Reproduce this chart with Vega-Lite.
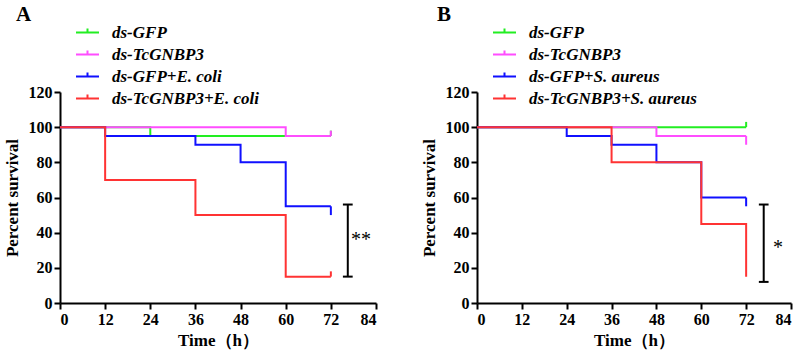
{
  "$schema": "https://vega.github.io/schema/vega-lite/v6.json",
  "background": "white",
  "padding": {"left": 3, "top": 4, "right": 3, "bottom": 4},
  "config": {
    "view": {"stroke": null},
    "font": "Liberation Serif",
    "axis": {
      "labelFont": "Liberation Serif", "labelFontWeight": "bold", "labelFontSize": 16, "labelColor": "black", "labelPadding": 2,
      "titleFont": "Liberation Serif", "titleFontWeight": "bold", "titleFontSize": 17, "titleColor": "black",
      "domainColor": "black", "domainWidth": 2, "tickColor": "black", "tickWidth": 2, "tickSize": 6, "grid": false
    },
    "legend": {
      "labelFont": "Liberation Serif", "labelFontWeight": "bold", "labelFontStyle": "italic", "labelFontSize": 17, "labelColor": "black", "labelLimit": 400,
      "symbolType": "M-1,0H1M0,0V-0.35", "symbolSize": 529, "symbolStrokeWidth": 2, "symbolFillColor": "transparent",
      "labelOffset": 12, "rowPadding": 1, "padding": 0, "orient": "none", "legendX": 15, "legendY": -72, "title": null
    },
    "title": {"font": "Liberation Serif", "fontWeight": "bold", "fontSize": 21, "anchor": "start", "color": "black"}
  },
  "datasets": {
    "a": [
      {"group": "ds-GFP", "t": 0, "s": 100}, {"group": "ds-GFP", "t": 24, "s": 95}, {"group": "ds-GFP", "t": 72, "s": 95},
      {"group": "ds-TcGNBP3", "t": 0, "s": 100}, {"group": "ds-TcGNBP3", "t": 60, "s": 95}, {"group": "ds-TcGNBP3", "t": 72, "s": 95},
      {"group": "ds-GFP+E. coli", "t": 0, "s": 100}, {"group": "ds-GFP+E. coli", "t": 12, "s": 95}, {"group": "ds-GFP+E. coli", "t": 36, "s": 90}, {"group": "ds-GFP+E. coli", "t": 48, "s": 80}, {"group": "ds-GFP+E. coli", "t": 60, "s": 55}, {"group": "ds-GFP+E. coli", "t": 72, "s": 55},
      {"group": "ds-TcGNBP3+E. coli", "t": 0, "s": 100}, {"group": "ds-TcGNBP3+E. coli", "t": 12, "s": 70}, {"group": "ds-TcGNBP3+E. coli", "t": 36, "s": 50}, {"group": "ds-TcGNBP3+E. coli", "t": 60, "s": 15}, {"group": "ds-TcGNBP3+E. coli", "t": 72, "s": 15}
    ],
    "aTicks": [
      {"group": "ds-GFP", "t": 72, "s": 95, "s2": 98},
      {"group": "ds-TcGNBP3", "t": 72, "s": 95, "s2": 98},
      {"group": "ds-GFP+E. coli", "t": 72, "s": 55, "s2": 50},
      {"group": "ds-TcGNBP3+E. coli", "t": 72, "s": 15, "s2": 18}
    ],
    "b": [
      {"group": "ds-GFP", "t": 0, "s": 100}, {"group": "ds-GFP", "t": 72, "s": 100},
      {"group": "ds-TcGNBP3", "t": 0, "s": 100}, {"group": "ds-TcGNBP3", "t": 48, "s": 95}, {"group": "ds-TcGNBP3", "t": 72, "s": 95},
      {"group": "ds-GFP+S. aureus", "t": 0, "s": 100}, {"group": "ds-GFP+S. aureus", "t": 24, "s": 95}, {"group": "ds-GFP+S. aureus", "t": 36, "s": 90}, {"group": "ds-GFP+S. aureus", "t": 48, "s": 80}, {"group": "ds-GFP+S. aureus", "t": 60, "s": 60}, {"group": "ds-GFP+S. aureus", "t": 72, "s": 60},
      {"group": "ds-TcGNBP3+S. aureus", "t": 0, "s": 100}, {"group": "ds-TcGNBP3+S. aureus", "t": 36, "s": 80}, {"group": "ds-TcGNBP3+S. aureus", "t": 60, "s": 45}, {"group": "ds-TcGNBP3+S. aureus", "t": 72, "s": 15}
    ],
    "bTicks": [
      {"group": "ds-GFP", "t": 72, "s": 100, "s2": 103},
      {"group": "ds-TcGNBP3", "t": 72, "s": 95, "s2": 90},
      {"group": "ds-GFP+S. aureus", "t": 72, "s": 60, "s2": 55}
    ],
    "aSig": [{"t": 76.5, "lo": 15, "hi": 56, "c1": 75.2, "c2": 77.8, "st": 80, "sy": 36, "label": "**"}],
    "bSig": [{"t": 76.7, "lo": 12, "hi": 56, "c1": 75.4, "c2": 78.0, "st": 80.5, "sy": 31, "label": "*"}]
  },
  "hconcat": [
    {
      "title": {"text": "A", "dx": 13, "offset": -5},
      "width": 316, "height": 211,
      "encoding": {
        "x": {"type": "quantitative", "scale": {"domain": [0, 84]}, "axis": {"values": [0, 12, 24, 36, 48, 60, 72, 84], "title": "Time（h）", "titlePadding": 5, "labelOverlap": false}},
        "y": {"type": "quantitative", "scale": {"domain": [0, 120]}, "axis": {"values": [0, 20, 40, 60, 80, 100, 120], "tickCount": 7, "title": "Percent survival", "titlePadding": 7, "labelOverlap": false}}
      },
      "layer": [
        {
          "data": {"name": "a"},
          "mark": {"type": "line", "interpolate": "step-after", "strokeWidth": 2},
          "encoding": {
            "x": {"field": "t"},
            "y": {"field": "s"},
            "color": {"field": "group", "type": "nominal", "scale": {"domain": ["ds-GFP", "ds-TcGNBP3", "ds-GFP+E. coli", "ds-TcGNBP3+E. coli"], "range": ["#22ee22", "#ff4dff", "#1010ff", "#ff3333"]}}
          }
        },
        {
          "data": {"name": "aTicks"},
          "mark": {"type": "rule", "strokeWidth": 2},
          "encoding": {"x": {"field": "t"}, "y": {"field": "s"}, "y2": {"field": "s2"}, "color": {"field": "group", "type": "nominal"}}
        },
        {
          "data": {"name": "aSig"},
          "mark": {"type": "rule", "strokeWidth": 2, "color": "black"},
          "encoding": {"x": {"field": "t"}, "y": {"field": "lo"}, "y2": {"field": "hi"}}
        },
        {
          "data": {"name": "aSig"},
          "mark": {"type": "rule", "strokeWidth": 2, "color": "black"},
          "encoding": {"x": {"field": "c1"}, "x2": {"field": "c2"}, "y": {"field": "lo"}}
        },
        {
          "data": {"name": "aSig"},
          "mark": {"type": "rule", "strokeWidth": 2, "color": "black"},
          "encoding": {"x": {"field": "c1"}, "x2": {"field": "c2"}, "y": {"field": "hi"}}
        },
        {
          "data": {"name": "aSig"},
          "mark": {"type": "text", "font": "Liberation Serif", "fontSize": 20, "color": "black", "baseline": "middle", "align": "center"},
          "encoding": {"x": {"field": "st"}, "y": {"field": "sy"}, "text": {"field": "label"}}
        }
      ]
    },
    {
      "title": {"text": "B", "dx": 17, "offset": -5},
      "width": 314, "height": 211,
      "encoding": {
        "x": {"type": "quantitative", "scale": {"domain": [0, 84]}, "axis": {"values": [0, 12, 24, 36, 48, 60, 72, 84], "title": "Time（h）", "titlePadding": 5, "labelOverlap": false}},
        "y": {"type": "quantitative", "scale": {"domain": [0, 120]}, "axis": {"values": [0, 20, 40, 60, 80, 100, 120], "tickCount": 7, "title": "Percent survival", "titlePadding": 7, "labelOverlap": false}}
      },
      "layer": [
        {
          "data": {"name": "b"},
          "mark": {"type": "line", "interpolate": "step-after", "strokeWidth": 2},
          "encoding": {
            "x": {"field": "t"},
            "y": {"field": "s"},
            "color": {"field": "group", "type": "nominal", "scale": {"domain": ["ds-GFP", "ds-TcGNBP3", "ds-GFP+S. aureus", "ds-TcGNBP3+S. aureus"], "range": ["#22ee22", "#ff4dff", "#1010ff", "#ff3333"]}}
          }
        },
        {
          "data": {"name": "bTicks"},
          "mark": {"type": "rule", "strokeWidth": 2},
          "encoding": {"x": {"field": "t"}, "y": {"field": "s"}, "y2": {"field": "s2"}, "color": {"field": "group", "type": "nominal"}}
        },
        {
          "data": {"name": "bSig"},
          "mark": {"type": "rule", "strokeWidth": 2, "color": "black"},
          "encoding": {"x": {"field": "t"}, "y": {"field": "lo"}, "y2": {"field": "hi"}}
        },
        {
          "data": {"name": "bSig"},
          "mark": {"type": "rule", "strokeWidth": 2, "color": "black"},
          "encoding": {"x": {"field": "c1"}, "x2": {"field": "c2"}, "y": {"field": "lo"}}
        },
        {
          "data": {"name": "bSig"},
          "mark": {"type": "rule", "strokeWidth": 2, "color": "black"},
          "encoding": {"x": {"field": "c1"}, "x2": {"field": "c2"}, "y": {"field": "hi"}}
        },
        {
          "data": {"name": "bSig"},
          "mark": {"type": "text", "font": "Liberation Serif", "fontSize": 20, "color": "black", "baseline": "middle", "align": "center"},
          "encoding": {"x": {"field": "st"}, "y": {"field": "sy"}, "text": {"field": "label"}}
        }
      ]
    }
  ],
  "spacing": 43,
  "resolve": {"scale": {"color": "independent"}, "legend": {"color": "independent"}}
}
